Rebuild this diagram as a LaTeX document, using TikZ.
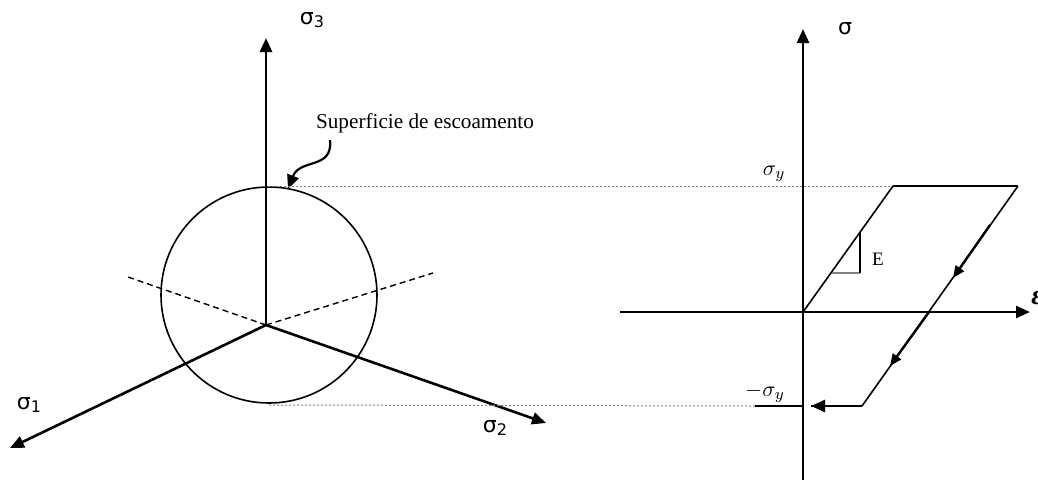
\documentclass[tikz,border=0pt]{standalone}
\usepackage{fontspec}
\setmainfont{Liberation Serif}
\newfontfamily\sigfont{DejaVu Sans}
\usetikzlibrary{arrows.meta}
\begin{document}
\begin{tikzpicture}[x=0.5pt,y=-0.5pt,
  tip/.style={-{Triangle[length=7pt,width=6pt]}},
  axisln/.style={line width=1.3pt},
  thinln/.style={line width=0.8pt},
  dashln/.style={line width=0.7pt,dash pattern=on 3pt off 2pt},
  guide/.style={gray,line width=0.5pt,dash pattern=on 1pt off 1pt},
  siglab/.style={font=\sigfont\fontsize{11}{13}\selectfont,inner sep=0pt},
  mathlab/.style={font=\fontsize{11}{13}\selectfont,inner sep=0pt}]
\useasboundingbox (0,0) rectangle (1038,489);
% ---------- left figure ----------
\coordinate (O) at (266,325);
\coordinate (s3) at (266,38);
\coordinate (s1) at (10,448);
\coordinate (s2) at (546,423);
\coordinate (d1) at (128,277);
\coordinate (d2) at (433,273);
\node[draw,circle,thinln,minimum size=108pt,inner sep=0pt] (circ) at (269,295) {};
\draw[axisln,tip] (O) -- (s3);
\draw[axisln,tip] (O) -- (s1);
\draw[axisln,tip] (O) -- (s2);
\draw[dashln] (O) -- (d1);
\draw[dashln] (O) -- (d2);
\node[siglab] (l3) at (312,20) {σ\raisebox{-0.3ex}{\fontsize{8}{8}\selectfont 3}};
\node[siglab] (l1) at (29,405) {σ\raisebox{-0.3ex}{\fontsize{8}{8}\selectfont 1}};
\node[siglab] (l2) at (495,428) {σ\raisebox{-0.3ex}{\fontsize{8}{8}\selectfont 2}};
\node[font=\fontsize{10.6}{12}\selectfont,inner sep=0pt] (sup) at (425,123) {Superficie de escoamento};
\coordinate (cs) at (330,140);
\coordinate (ce) at (288,189);
\draw[line width=1.1pt,-{Triangle[length=7pt,width=6pt]}] (cs) .. controls (333,170) and (300,158) .. (ce);
% ---------- right figure ----------
\coordinate (P) at (803,312);
\coordinate (ytop) at (803,29);
\coordinate (ybot) at (803,480);
\coordinate (xl) at (620,312);
\coordinate (xr) at (1030,312);
\coordinate (A) at (893,186);
\coordinate (B) at (1018,186);
\coordinate (C) at (862,406);
\coordinate (Cend) at (811,406);
\coordinate (Dl) at (755,406);
\coordinate (Dr) at (803,406);
\coordinate (Gl) at (268,186);
\coordinate (Hl) at (269,405);
\draw[guide] (Gl) -- (A);
\draw[guide] (Hl) -- (Dl);
\draw[axisln] (ybot) -- (P);
\draw[axisln,tip] (P) -- (ytop);
\draw[axisln] (xl) -- (P);
\draw[axisln,tip] (P) -- (xr);
\draw[thinln] (P) -- (A);
\draw[axisln] (A) -- (B);
\draw[thinln] (B) -- (C);
\draw[axisln] (C) -- (Cend);
\draw[axisln,tip] (C) -- (Cend);
\draw[axisln] (Dl) -- (Dr);
\coordinate (a1s) at (990,225);
\coordinate (a1e) at (953,278);
\coordinate (a2s) at (929,312);
\coordinate (a2e) at (890,366);
\draw[line width=1.2pt,-{Triangle[length=6pt,width=5pt]}] (a1s) -- (a1e);
\draw[line width=1.2pt,-{Triangle[length=6pt,width=5pt]}] (a2s) -- (a2e);
\coordinate (t1) at (832,273);
\coordinate (t2) at (860,273);
\coordinate (t3) at (860,232);
\draw[gray,line width=0.7pt] (t1) -- (t2);
\draw[line width=0.7pt] (t2) -- (t3);
\node[font=\fontsize{9.5}{11}\selectfont,inner sep=0pt] (E) at (878,259) {E};
\node[siglab] (ls) at (845,29) {σ};
\node[mathlab] (sy) at (774,174) {$\sigma_y$};
\node[mathlab] (msy) at (765,393) {$-\sigma_y$};
\node[font=\bfseries\itshape\fontsize{14}{16}\selectfont,inner sep=0pt,anchor=west] (eps) at (1031,298) {ε};
\end{tikzpicture}
\end{document}
